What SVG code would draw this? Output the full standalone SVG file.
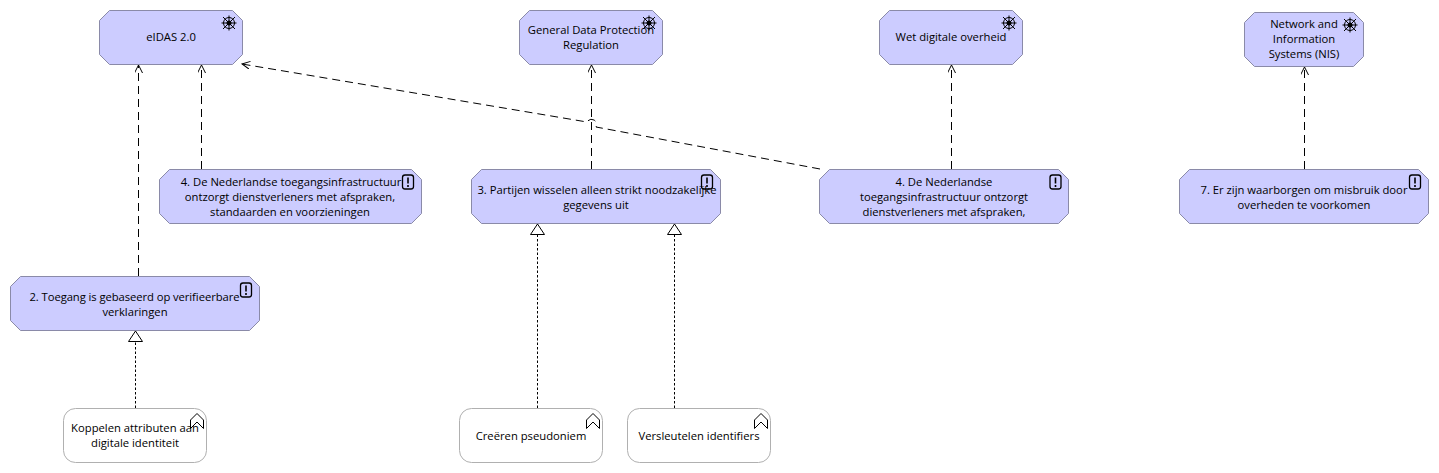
<svg xmlns="http://www.w3.org/2000/svg" width="1439" height="473" viewBox="0 0 1439 473">
<style>
text{font-family:"Open Sans","Noto Sans","Liberation Sans",sans-serif;font-size:11.25px;fill:#000;text-anchor:middle}
.m{fill:#ccccff;stroke:#8a8aa8;stroke-width:1}
.w{fill:#fff;stroke:#b0b0b0;stroke-width:1}
.d{fill:none;stroke:#000;stroke-width:1;stroke-dasharray:8 5}
.r{fill:none;stroke:#000;stroke-width:1;stroke-dasharray:2.5 2}
.i{fill:none;stroke:#000;stroke-width:1}
</style>
<defs>
<marker id="open" markerUnits="userSpaceOnUse" markerWidth="10" markerHeight="10" refX="8" refY="4" orient="auto"><path d="M0 0L8 4L0 8" fill="none" stroke="#000"/></marker>
<marker id="tri" markerUnits="userSpaceOnUse" markerWidth="14" markerHeight="16" refX="11" refY="7.500" orient="auto"><path d="M0.500 0.500L11 7.500L0.500 14.500Z" fill="#fff" stroke="#000"/></marker>
<g id="wheel"><circle r="5.500" class="i"/><circle r="2.500" fill="#000"/><path class="i" d="M-7.500 0H7.500M0-7.500V7.500M-6-6L6 6M-6 6L6-6"/></g>
<g id="req"><rect x="-5.500" y="-7" width="11" height="14" rx="2.500" fill="none" stroke="#000" stroke-width="1.300"/><path d="M0-4.500V1.500M0 3V5" stroke="#000" stroke-width="1.600"/></g>
<g id="goal"><path class="i" d="M-6.500 7.500V-1L0-7.500L6.500-1V7.500L0 1Z"/></g>
</defs>
<g id="connectors">
<path class="d" marker-end="url(#open)" d="M138.500 276V65"/>
<path class="d" marker-end="url(#open)" d="M201.500 169V65"/>
<path class="d" marker-end="url(#open)" d="M591.500 169V65"/>
<path class="d" marker-end="url(#open)" d="M951.500 169V65"/>
<path class="d" marker-end="url(#open)" d="M1304.500 169V67"/>
<path class="d" marker-end="url(#open)" d="M820 169L596 127A4.500 4.500 0 0 0 587 122L242 64"/>
<path class="r" marker-end="url(#tri)" d="M135.500 408V331"/>
<path class="r" marker-end="url(#tri)" d="M537.500 408V224"/>
<path class="r" marker-end="url(#tri)" d="M674.500 408V224"/>
</g>
<g id="n-eidas"><path class="m" d="M109.500 10.500H232.500L242.500 20.500V54.500L232.500 64.500H109.500L99.500 54.500V20.500Z"/><use href="#wheel" x="229" y="23"/><text x="171" y="41">eIDAS 2.0</text></g>
<g id="n-gdpr"><path class="m" d="M529.500 10.500H652.500L662.500 20.500V54.500L652.500 64.500H529.500L519.500 54.500V20.500Z"/><use href="#wheel" x="649" y="23"/><text x="591" y="33.500">General Data Protection</text><text x="591" y="48.500">Regulation</text></g>
<g id="n-wdo"><path class="m" d="M889.500 10.500H1012.500L1022.500 20.500V54.500L1012.500 64.500H889.500L879.500 54.500V20.500Z"/><use href="#wheel" x="1009" y="23"/><text x="951" y="41">Wet digitale overheid</text></g>
<g id="n-nis"><path class="m" d="M1254.500 12.500H1353.500L1363.500 22.500V56.500L1353.500 66.500H1254.500L1244.500 56.500V22.500Z"/><use href="#wheel" x="1350" y="25"/><text x="1304" y="28">Network and</text><text x="1304" y="43">Information</text><text x="1304" y="58">Systems (NIS)</text></g>
<g id="n-req4a"><path class="m" d="M169.500 169.500H411.500L421.500 179.500V213.500L411.500 223.500H169.500L159.500 213.500V179.500Z"/><use href="#req" x="408" y="182"/><text x="291" y="186">4. De Nederlandse toegangsinfrastructuur</text><text x="290" y="201">ontzorgt dienstverleners met afspraken,</text><text x="290" y="216">standaarden en voorzieningen</text></g>
<g id="n-req3"><path class="m" d="M481.500 169.500H710.500L720.500 179.500V213.500L710.500 223.500H481.500L471.500 213.500V179.500Z"/><use href="#req" x="707" y="182"/><text x="597" y="193.500">3. Partijen wisselen alleen strikt noodzakelijke</text><text x="596" y="208.500">gegevens uit</text></g>
<g id="n-req4b"><path class="m" d="M829.500 169.500H1058.500L1068.500 179.500V213.500L1058.500 223.500H829.500L819.500 213.500V179.500Z"/><use href="#req" x="1055.500" y="182"/><text x="944" y="185.500">4. De Nederlandse</text><text x="944" y="200.500">toegangsinfrastructuur ontzorgt</text><text x="944" y="215.500">dienstverleners met afspraken,</text></g>
<g id="n-req7"><path class="m" d="M1189.500 169.500H1418.500L1428.500 179.500V213.500L1418.500 223.500H1189.500L1179.500 213.500V179.500Z"/><use href="#req" x="1415" y="182"/><text x="1304" y="193.500">7. Er zijn waarborgen om misbruik door</text><text x="1304" y="208.500">overheden te voorkomen</text></g>
<g id="n-req2"><path class="m" d="M20.500 276.500H249.500L259.500 286.500V320.500L249.500 330.500H20.500L10.500 320.500V286.500Z"/><use href="#req" x="246" y="290"/><text x="134.500" y="300.500" textLength="210">2. Toegang is gebaseerd op verifieerbare</text><text x="135" y="315.500">verklaringen</text></g>
<g id="n-koppelen"><rect class="w" x="63.500" y="408.500" width="143" height="54" rx="12"/><use href="#goal" x="197" y="421"/><text x="135" y="432">Koppelen attributen aan</text><text x="135" y="447">digitale identiteit</text></g>
<g id="n-creeren"><rect class="w" x="459.500" y="408.500" width="143" height="54" rx="12"/><use href="#goal" x="593" y="421"/><text x="531" y="440">Creëren pseudoniem</text></g>
<g id="n-versleutelen"><rect class="w" x="627.500" y="408.500" width="143" height="54" rx="12"/><use href="#goal" x="761" y="421"/><text x="699" y="440">Versleutelen identifiers</text></g>
</svg>
